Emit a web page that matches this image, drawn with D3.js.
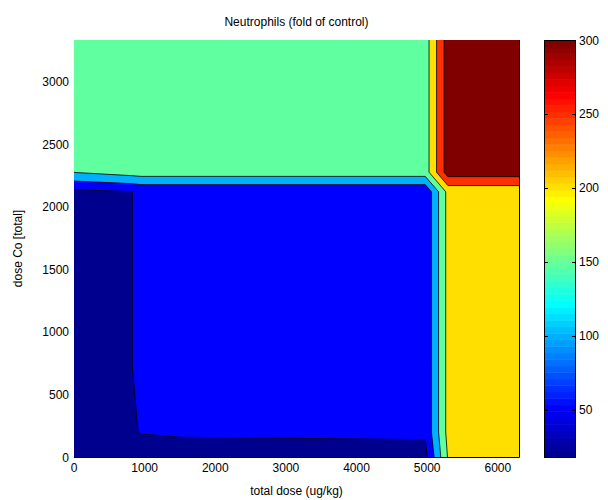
<!DOCTYPE html>
<html><head><meta charset="utf-8">
<script src="https://cdn.jsdelivr.net/npm/d3@7"></script>
<style>
body{margin:0;background:#fff;}
text{font-family:"Liberation Sans", Arial, Helvetica, sans-serif;font-size:12px;fill:#000;}
</style></head><body>
<svg id="chart" width="608" height="500"></svg>
<script>
// ---- data ----
const xGrid = [0, 800, 950, 1500, 4973, 5293, 6300];      // total dose grid (ug/kg)
const yGrid = [0, 200, 720, 2120, 2276, 3333];            // dose Co grid
const zRows = [                                            // fold of control, rows bottom -> top
  [18, 20, 25, 20, 34, 203, 203],
  [18, 45, 52, 58, 57, 215, 215],
  [18, 48.5, 57, 57, 57, 215, 215],
  [38, 48.5, 57, 57, 57, 215, 215],
  [151, 171, 175, 175, 175, 325, 325],
  [151, 171, 175, 175, 175, 325, 325]
];
const levels = [50, 100, 150, 200, 250, 300];
const xTicks = [0, 1000, 2000, 3000, 4000, 5000, 6000];
const yTicks = [0, 500, 1000, 1500, 2000, 2500, 3000];
const cbTicks = [50, 100, 150, 200, 250, 300];
const cRange = [18, 300];
const xDomain = [0, 6300], yDomain = [0, 3333];
const titleText = "Neutrophils (fold of control)";
const xLabel = "total dose (ug/kg)", yLabel = "dose Co [total]";

// ---- layout ----
const L = 74, R = 519, T = 40, B = 457;
const CBL = 544, CBR = 576;

const svg = d3.select("#chart");
const xs = d3.scaleLinear().domain(xDomain).range([L, R]);
const ys = d3.scaleLinear().domain(yDomain).range([B, T]);

// MATLAB jet(64)
function jet64() {
  const m = 64, n = 16, u = [];
  for (let i = 1; i <= n; i++) u.push(i / n);
  for (let i = 0; i < n - 1; i++) u.push(1);
  for (let i = n; i >= 1; i--) u.push(i / n);
  const g0 = Math.ceil(n / 2) - (m % 4 === 1 ? 1 : 0);
  const Rr = new Array(m).fill(0), Gg = new Array(m).fill(0), Bb = new Array(m).fill(0);
  u.forEach((v, k) => {
    const gi = g0 + k + 1, ri = gi + n, bi = gi - n;
    if (gi >= 1 && gi <= m) Gg[gi - 1] = v;
    if (ri >= 1 && ri <= m) Rr[ri - 1] = v;
    if (bi >= 1 && bi <= m) Bb[bi - 1] = v;
  });
  return d3.range(m).map(i => d3.rgb(Rr[i] * 255, Gg[i] * 255, Bb[i] * 255).formatHex());
}
const cmap = jet64();
function colorOf(v) {
  const k = Math.floor((v - cRange[0]) / (cRange[1] - cRange[0]) * 64);
  return cmap[Math.max(0, Math.min(63, k))];
}

// ---- contour grid (padded with duplicated edges, clipped later) ----
const nx = xGrid.length + 2, ny = yGrid.length + 2;
const Xp = [xGrid[0] - 400, ...xGrid, xGrid[xGrid.length - 1] + 400];
const Yp = [yGrid[0] - 400, ...yGrid, yGrid[yGrid.length - 1] + 400];
const vals = [];
for (let j = 0; j < ny; j++) {
  const sr = Math.max(0, Math.min(yGrid.length - 1, j - 1));
  for (let i = 0; i < nx; i++) {
    const sc = Math.max(0, Math.min(xGrid.length - 1, i - 1));
    vals.push(zRows[sr][sc]);
  }
}
// calibrate d3.contours sample position
const cal = d3.contours().size([2, 1]).thresholds([5])([0, 10])[0];
let minx = Infinity;
cal.coordinates.forEach(p => p.forEach(r => r.forEach(pt => { if (pt[0] < minx) minx = pt[0]; })));
const off = minx - 0.5;
const gx = d3.scaleLinear().domain(d3.range(nx).map(i => i + off)).range(Xp);
const gy = d3.scaleLinear().domain(d3.range(ny).map(i => i + off)).range(Yp);
const path = d3.geoPath(d3.geoTransform({
  point(x, y) { this.stream.point(xs(gx(x)), ys(gy(y))); }
}));
const contours = d3.contours().size([nx, ny]).thresholds(levels)(vals);

svg.append("defs").append("clipPath").attr("id", "pc")
  .append("rect").attr("x", L).attr("y", T).attr("width", R - L).attr("height", B - T);

const g = svg.append("g").attr("clip-path", "url(#pc)");
g.append("rect").attr("x", L).attr("y", T).attr("width", R - L).attr("height", B - T)
  .attr("fill", colorOf(d3.min(zRows.flat())));
g.selectAll("path.c").data(contours).enter().append("path")
  .attr("class", "c")
  .attr("d", path)
  .attr("fill", d => colorOf(d.value))
  .attr("stroke", "#000").attr("stroke-width", 0.8).attr("stroke-linejoin", "round");

// frame edges visible at bottom / right
svg.append("line").attr("x1", L).attr("x2", R + 0.5).attr("y1", B + 0.5).attr("y2", B + 0.5).attr("stroke", "#000");
svg.append("line").attr("x1", R + 0.5).attr("x2", R + 0.5).attr("y1", T).attr("y2", B + 0.5).attr("stroke", "#000");

// tick labels
svg.append("g").selectAll("text").data(xTicks).enter().append("text")
  .attr("x", d => xs(d)).attr("y", 472).attr("text-anchor", "middle").text(d => d);
svg.append("g").selectAll("text").data(yTicks).enter().append("text")
  .attr("x", 69).attr("y", d => ys(d) + 4.5).attr("text-anchor", "end").text(d => d);

// titles
svg.append("text").attr("x", (L + R) / 2).attr("y", 26).attr("text-anchor", "middle").text(titleText);
svg.append("text").attr("x", (L + R) / 2).attr("y", 495).attr("text-anchor", "middle").text(xLabel);
svg.append("text").attr("transform", `translate(22,${(T + B) / 2}) rotate(-90)`)
  .attr("text-anchor", "middle").text(yLabel);

// ---- colorbar ----
const cs = d3.scaleLinear().domain(cRange).range([B, T]);
const step = (cRange[1] - cRange[0]) / 64;
svg.append("g").selectAll("rect").data(cmap).enter().append("rect")
  .attr("x", CBL).attr("width", CBR - CBL)
  .attr("y", (d, i) => cs(cRange[0] + (i + 1) * step))
  .attr("height", (d, i) => cs(cRange[0] + i * step) - cs(cRange[0] + (i + 1) * step) + 0.5)
  .attr("fill", d => d);
svg.append("rect").attr("x", CBL + 0.5).attr("y", T + 0.5).attr("width", CBR - CBL - 1).attr("height", B - T)
  .attr("fill", "none").attr("stroke", "#000");
const cbt = svg.append("g").selectAll("g").data(cbTicks).enter().append("g");
cbt.append("line").attr("x1", CBL).attr("x2", CBL + 4).attr("y1", d => Math.round(cs(d)) + 0.5).attr("y2", d => Math.round(cs(d)) + 0.5).attr("stroke", "#000");
cbt.append("line").attr("x1", CBR - 4).attr("x2", CBR).attr("y1", d => Math.round(cs(d)) + 0.5).attr("y2", d => Math.round(cs(d)) + 0.5).attr("stroke", "#000");
cbt.append("text").attr("x", CBR + 3).attr("y", d => cs(d) + 4.5).text(d => d);
</script>
</body></html>
